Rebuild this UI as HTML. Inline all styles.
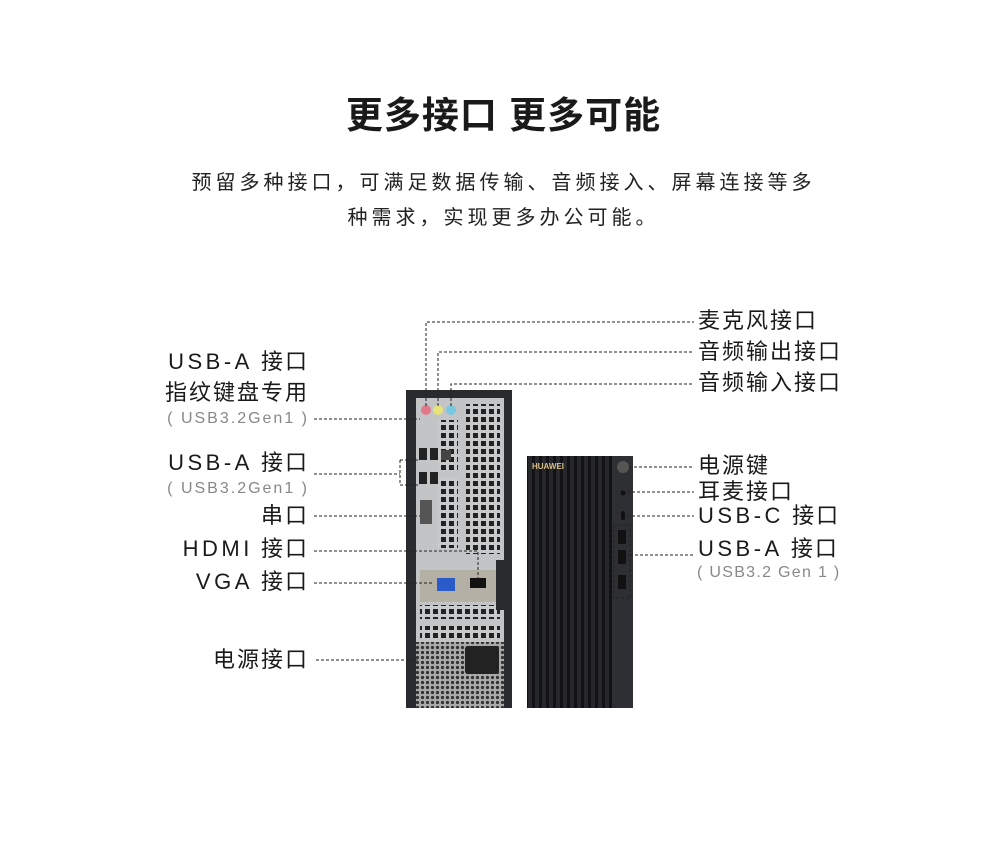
<!DOCTYPE html>
<html><head><meta charset="utf-8"><style>
body{margin:0;width:1007px;height:854px;background:#fff;position:relative;overflow:hidden;font-family:"Liberation Sans","Noto Sans CJK SC",sans-serif;color:#1a1a1a}
.t{position:absolute;white-space:nowrap;line-height:1}
.l{font-size:22px;letter-spacing:2px}
.w{letter-spacing:3.5px}
.s{font-size:16px;color:#888;letter-spacing:2px}
.r{text-align:right;right:698px}
</style></head><body>
<div class="t" style="left:0;width:1007px;text-align:center;top:97px;font-size:37px;font-weight:bold;letter-spacing:1px">更多接口 更多可能</div>
<div class="t" style="left:0;width:1007px;text-align:center;top:173px;font-size:20px;letter-spacing:4px;color:#222">预留多种接口，可满足数据传输、音频接入、屏幕连接等多</div>
<div class="t" style="left:0;width:1007px;text-align:center;top:208px;font-size:20px;letter-spacing:4px;color:#222">种需求，实现更多办公可能。</div>

<svg width="1007" height="854" style="position:absolute;left:0;top:0">
<defs>
<pattern id="g" width="8" height="8" patternUnits="userSpaceOnUse"><rect width="8" height="8" fill="#c8c9cb"/><rect x="1" y="1" width="5" height="5" fill="#222"/></pattern>
<pattern id="h" width="5" height="5" patternUnits="userSpaceOnUse"><rect width="5" height="5" fill="#aaa"/><circle cx="2.5" cy="2.5" r="1.6" fill="#333"/></pattern>
<pattern id="f" width="7" height="10" patternUnits="userSpaceOnUse"><rect width="7" height="10" fill="#26272a"/><rect x="0" y="0" width="3" height="10" fill="#121214"/></pattern>
</defs>
<rect x="406" y="390" width="106" height="318" fill="#2a2b2e"/>
<rect x="416" y="398" width="88" height="310" fill="#c3c4c6"/>
<rect x="438" y="420" width="20" height="50" fill="url(#g)"/>
<rect x="438" y="478" width="20" height="70" fill="url(#g)"/>
<rect x="466" y="404" width="34" height="150" fill="url(#g)"/>
<circle cx="426" cy="410" r="5" fill="#e07a8a"/><circle cx="438" cy="410" r="5" fill="#e8e27a"/><circle cx="451" cy="410" r="5" fill="#7ac7e0"/>
<rect x="419" y="448" width="8" height="12" fill="#222"/><rect x="430" y="448" width="8" height="12" fill="#222"/><rect x="441" y="450" width="10" height="10" fill="#444"/>
<rect x="419" y="472" width="8" height="12" fill="#222"/><rect x="430" y="472" width="8" height="12" fill="#222"/>
<rect x="420" y="500" width="12" height="24" fill="#555"/>
<rect x="420" y="570" width="82" height="32" fill="#b5b0a5"/>
<rect x="437" y="578" width="18" height="13" fill="#2a5bc8"/>
<rect x="470" y="578" width="16" height="10" fill="#111"/>
<rect x="420" y="605" width="80" height="14" fill="url(#g)"/>
<rect x="420" y="626" width="80" height="12" fill="url(#g)"/>
<rect x="416" y="642" width="88" height="66" fill="url(#h)"/>
<rect x="465" y="646" width="34" height="28" fill="#222" rx="3"/>
<rect x="496" y="560" width="16" height="50" fill="#2a2b2e"/>
<rect x="527" y="456" width="106" height="252" fill="url(#f)"/>
<rect x="612" y="456" width="21" height="252" fill="#2e2f33"/>
<text x="532" y="469" font-size="8" fill="#d8c08a" font-family="Liberation Sans" font-weight="bold">HUAWEI</text>
<circle cx="623" cy="467" r="6" fill="#555"/><circle cx="623" cy="493" r="2.5" fill="#111"/>
<rect x="621" y="511" width="4" height="9" fill="#111" rx="2"/>
<rect x="618" y="530" width="8" height="14" fill="#111"/><rect x="618" y="550" width="8" height="14" fill="#111"/><rect x="618" y="575" width="8" height="14" fill="#111"/>
<g fill="none" stroke="#222" stroke-width="1" stroke-dasharray="3,2">
<path d="M314 419H420"/>
<path d="M314 474H400M400 460V485M400 460H420M400 485H420"/>
<path d="M314 516H420"/>
<path d="M314 551H478V578"/>
<path d="M314 583H432"/>
<path d="M316 660H418"/>
<path d="M426 406V322H694"/>
<path d="M438 406V352H694"/>
<path d="M451 406V384H694"/>
<path d="M629 467H694"/>
<path d="M627 492H694"/>
<path d="M627 516H694"/>
<path d="M614 525H630V598H614Z"/>
<path d="M630 555H694"/>
</g>
</svg>

<div class="t l r" style="top:351px"><span class="w">USB-A</span> 接口</div>
<div class="t l r" style="top:382px">指纹键盘专用</div>
<div class="t s r" style="top:411px">( USB3.2Gen1 )</div>
<div class="t l r" style="top:452px"><span class="w">USB-A</span> 接口</div>
<div class="t s r" style="top:481px">( USB3.2Gen1 )</div>
<div class="t l r" style="top:505px">串口</div>
<div class="t l r" style="top:538px"><span class="w">HDMI</span> 接口</div>
<div class="t l r" style="top:571px"><span class="w">VGA</span> 接口</div>
<div class="t l r" style="top:649px">电源接口</div>

<div class="t l" style="left:698px;top:310px">麦克风接口</div>
<div class="t l" style="left:698px;top:341px">音频输出接口</div>
<div class="t l" style="left:698px;top:372px">音频输入接口</div>
<div class="t l" style="left:698px;top:455px">电源键</div>
<div class="t l" style="left:698px;top:481px">耳麦接口</div>
<div class="t l" style="left:698px;top:505px"><span class="w">USB-C</span> 接口</div>
<div class="t l" style="left:698px;top:538px"><span class="w">USB-A</span> 接口</div>
<div class="t s" style="left:697px;top:565px;letter-spacing:1.3px">( USB3.2 Gen 1 )</div>
</body></html>
